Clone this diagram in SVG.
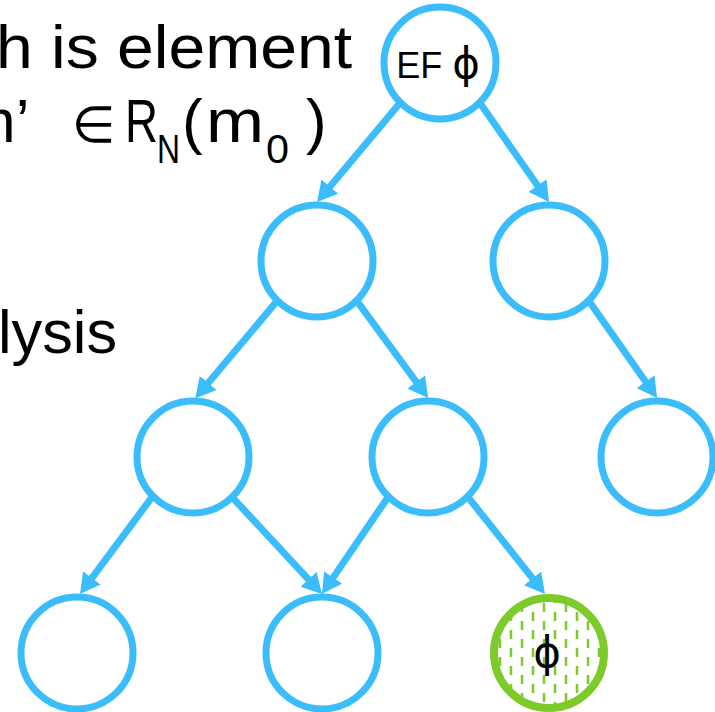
<svg xmlns="http://www.w3.org/2000/svg" width="715" height="712" viewBox="0 0 715 712">
<style>
.txt{font-family:"Liberation Sans","DejaVu Sans",sans-serif;fill:#000}
.big{font-size:62px}
.sub{font-size:40px}
.elem{font-family:"DejaVu Sans",sans-serif;font-size:50px}
.lbl{font-size:36px}
.phi{font-family:"DejaVu Sans",sans-serif;font-size:42px}
.node{fill:#fff;stroke:#3BBDFC;stroke-width:7}
.goal{fill:url(#hatch);stroke:#7CCB2A;stroke-width:8}
.edge{stroke:#3BBDFC;stroke-width:7;fill:none;marker-end:url(#arr)}
</style>
<defs>
<marker id="arr" markerUnits="userSpaceOnUse" viewBox="0 0 20 22" markerWidth="20" markerHeight="22" refX="2" refY="11" orient="auto">
<path d="M0,0 L20,11 L0,22 z" fill="#3BBDFC"/>
</marker>
<pattern id="hatch" patternUnits="userSpaceOnUse" width="22" height="18" x="0" y="0">
<rect width="22" height="18" fill="#fff"/>
<line x1="5" y1="0" x2="5" y2="9" stroke="#7CCB2A" stroke-width="2.5"/>
<line x1="16" y1="9" x2="16" y2="18" stroke="#7CCB2A" stroke-width="2.5"/>
</pattern>
</defs>
<g id="text">
<text class="txt big" x="-4" y="68" textLength="356" lengthAdjust="spacingAndGlyphs">h is element</text>
<text class="txt big" x="-36" y="142">m’</text>
<text class="txt elem" x="72" y="142">∈</text>
<text class="txt big" x="125" y="142" textLength="33" lengthAdjust="spacingAndGlyphs">R</text>
<text class="txt sub" x="157" y="163" textLength="23" lengthAdjust="spacingAndGlyphs">N</text>
<text class="txt big" x="182" y="142">(</text>
<text class="txt big" x="206" y="142" textLength="58" lengthAdjust="spacingAndGlyphs">m</text>
<text class="txt sub" x="266" y="163" textLength="23" lengthAdjust="spacingAndGlyphs">0</text>
<text class="txt big" x="306" y="142">)</text>
<text class="txt big" x="-2" y="353" textLength="119" lengthAdjust="spacingAndGlyphs">lysis</text>
</g>
<g id="connectors">
<line class="edge" x1="400.4" y1="102.6" x2="328.6" y2="188.2"/>
<line class="edge" x1="479.6" y1="102.6" x2="538.7" y2="187.2"/>
<line class="edge" x1="277.4" y1="300.6" x2="206.9" y2="384.5"/>
<line class="edge" x1="356.6" y1="300.6" x2="417.4" y2="383.5"/>
<line class="edge" x1="588.6" y1="300.6" x2="646.7" y2="383.3"/>
<line class="edge" x1="152.4" y1="496.6" x2="90.7" y2="579.6"/>
<line class="edge" x1="231.6" y1="496.6" x2="309.8" y2="580.8"/>
<line class="edge" x1="388.4" y1="496.6" x2="332.1" y2="579.1"/>
<line class="edge" x1="467.6" y1="496.6" x2="533.8" y2="579.9"/>
</g>
<g id="n-root"><circle class="node" cx="440" cy="63" r="56"/><text class="txt lbl" x="438" y="78" text-anchor="middle">EF <tspan class="phi">ϕ</tspan></text></g>
<g id="n-l1a"><circle class="node" cx="317" cy="261" r="56"/></g>
<g id="n-l1b"><circle class="node" cx="549" cy="261" r="56"/></g>
<g id="n-l2a"><circle class="node" cx="193" cy="457" r="56"/></g>
<g id="n-l2b"><circle class="node" cx="428" cy="457" r="56"/></g>
<g id="n-l2c"><circle class="node" cx="657" cy="457" r="56"/></g>
<g id="n-l3a"><circle class="node" cx="77" cy="653" r="56"/></g>
<g id="n-l3b"><circle class="node" cx="322" cy="653" r="56"/></g>
<g id="n-l3c"><circle class="goal" cx="549" cy="653" r="55"/><text class="txt phi" x="547" y="667" text-anchor="middle">ϕ</text></g>
</svg>
